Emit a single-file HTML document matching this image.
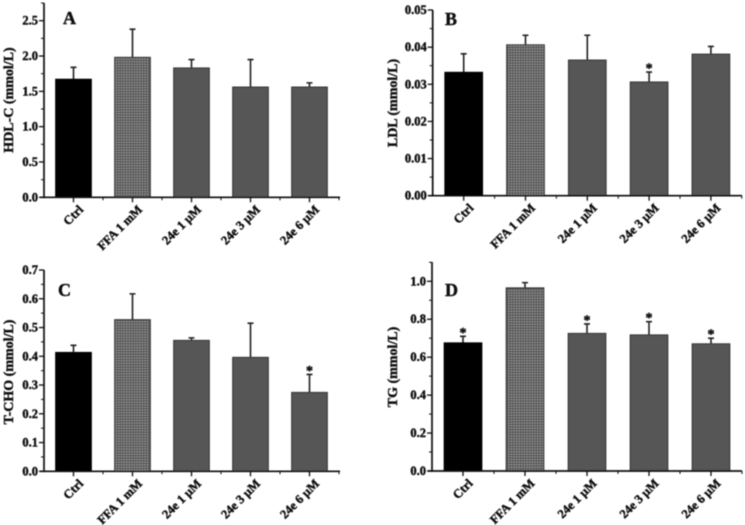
<!DOCTYPE html>
<html>
<head>
<meta charset="utf-8">
<title>Lipid panels</title>
<style>
html,body{margin:0;padding:0;background:#fff;}
#fig{display:block;width:745px;height:525px;}
text{font-family:"Liberation Serif",serif;font-weight:bold;fill:#0a0a0a;stroke:#0a0a0a;stroke-width:0.4px;}
</style>
</head>
<body>
<svg id="fig" xmlns="http://www.w3.org/2000/svg" width="745" height="525" viewBox="0 0 745 525">
<defs>
<pattern id="grid" width="2.6" height="2.6" patternUnits="userSpaceOnUse">
<rect width="2.6" height="2.6" fill="#9c9c9c"/>
<path d="M0 0.6H2.6M0.6 0V2.6" stroke="#525252" stroke-width="1.1"/>
</pattern>
<filter id="soft" x="-5%" y="-5%" width="110%" height="110%"><feGaussianBlur stdDeviation="0.4"/></filter>
</defs>
<g id="root" filter="url(#soft)"></g>
</svg>
<script>
var categories = ['Ctrl', 'FFA 1 mM', '24e 1 µM', '24e 3 µM', '24e 6 µM'];

var hdlValues = [1.67, 1.98, 1.83, 1.56, 1.56];
var hdlErrors = [0.17, 0.40, 0.12, 0.39, 0.06];
var hdlStars = [false, false, false, false, false];
var hdlTicks = ['0.0', '0.5', '1.0', '1.5', '2.0', '2.5'];

var ldlValues = [0.0332, 0.0406, 0.0365, 0.0306, 0.0381];
var ldlErrors = [0.0050, 0.0026, 0.0067, 0.0027, 0.0021];
var ldlStars = [false, false, false, true, false];
var ldlTicks = ['0.00', '0.01', '0.02', '0.03', '0.04', '0.05'];

var chotValues = [0.413, 0.527, 0.455, 0.396, 0.274];
var chotErrors = [0.025, 0.090, 0.009, 0.119, 0.063];
var chotStars = [false, false, false, false, true];
var chotTicks = ['0.0', '0.1', '0.2', '0.3', '0.4', '0.5', '0.6', '0.7'];

var tgValues = [0.675, 0.965, 0.725, 0.717, 0.670];
var tgErrors = [0.035, 0.028, 0.050, 0.070, 0.030];
var tgStars = [true, false, true, true, true];
var tgTicks = ['0.0', '0.2', '0.4', '0.6', '0.8', '1.0'];

var NS = 'http://www.w3.org/2000/svg';
var root = document.getElementById('root');

function make(tag, attrs, parent, txt) {
  var el = document.createElementNS(NS, tag);
  for (var k in attrs) el.setAttribute(k, attrs[k]);
  if (txt !== undefined) el.textContent = txt;
  parent.appendChild(el);
  return el;
}

function drawPanel(cfg) {
  var g = make('g', {}, root);
  
  

  var tickNums = cfg.ticks.map(Number);
  var step = tickNums[1] - tickNums[0];
  var yScale = function (v) {
    return cfg.y0 - (v / cfg.refValue) * (cfg.y0 - cfg.yRef);
  };
  var xScale = function (i) {
    return cfg.x0 + i * cfg.dx;
  };

  // bars and error bars
  cfg.values.forEach(function (v, i) {
    var cx = xScale(i);
    var top = yScale(v + cfg.errors[i]);
    var yv = yScale(v);
    var err = make('path', {
      d: 'M' + cx + ' ' + yv + 'V' + top + 'M' + (cx - 3) + ' ' + top + 'H' + (cx + 3),
      stroke: '#222', 'stroke-width': 1.6, fill: 'none'
    }, g);
    
    

    var fill = i === 0 ? '#000' : (i === 1 ? 'url(#grid)' : '#565656');
    var bar = make('rect', {
      x: cx - cfg.bw / 2, y: yv, width: cfg.bw, height: cfg.y0 - yv,
      fill: fill, stroke: i === 0 ? '#000' : '#3a3a3a', 'stroke-width': 1.2
    }, g);
    
    

    if (cfg.stars[i]) {
      var st = make('text', {
        x: cx, y: top + 0.5, 'text-anchor': 'middle', 'font-size': 14
      }, g, '*');
      
      
    }

    var t = make('path', {
      d: 'M' + cx + ' ' + cfg.y0 + 'v5', stroke: '#111', 'stroke-width': 1.3
    }, g);
    
    

    var m = make('path', {
      d: 'M' + (cx + cfg.dx / 2) + ' ' + cfg.y0 + 'v3', stroke: '#111', 'stroke-width': 1
    }, g);
    
    

    var lx = cx + 10.5, ly = cfg.y0 + 13;
    var lab = make('text', {
      x: lx, y: ly, 'text-anchor': 'end', 'font-size': 12.5,
      transform: 'rotate(-45 ' + lx + ' ' + ly + ')'
    }, g, categories[i]);
    
    
  });

  // axes
  var yAxis = make('path', {
    d: 'M' + cfg.ax + ' ' + cfg.yTop + 'V' + (cfg.y0 + 0.8), stroke: '#111', 'stroke-width': 1.7
  }, g);
  
  
  var xAxis = make('path', {
    d: 'M' + (cfg.ax - 4) + ' ' + cfg.y0 + 'H' + cfg.xEnd, stroke: '#111', 'stroke-width': 1.7
  }, g);
  
  

  // y ticks
  cfg.ticks.forEach(function (label, i) {
    var v = tickNums[i];
    var y = yScale(v);
    var t = make('path', {
      d: 'M' + (cfg.ax - 5) + ' ' + y + 'H' + cfg.ax, stroke: '#111', 'stroke-width': 1.3
    }, g);
    
    
    var l = make('text', {
      x: cfg.ax - 6, y: y + 4, 'text-anchor': 'end', 'font-size': 12.5
    }, g, label);
    
    

    var my = yScale(v + step / 2);
    if (my >= cfg.yTop - 0.5) {
      var m = make('path', {
        d: 'M' + (cfg.ax - 3) + ' ' + my + 'H' + cfg.ax, stroke: '#111', 'stroke-width': 1
      }, g);
      
      
    }
  });

  var title = make('text', {
    x: cfg.titleX, y: cfg.titleY, 'text-anchor': 'middle', 'font-size': 14,
    transform: 'rotate(-90 ' + cfg.titleX + ' ' + cfg.titleY + ')'
  }, g, cfg.title);
  
  

  var letter = make('text', {
    x: cfg.letterX, y: cfg.letterY, 'font-size': 18
  }, g, cfg.letter);
  
  
}

drawPanel({
  key: 'hdl', title: 'HDL-C (mmol/L)', letter: 'A',
  values: hdlValues, errors: hdlErrors, stars: hdlStars, ticks: hdlTicks,
  refValue: 2.5, ax: 44, y0: 197.3, yRef: 20.7, yTop: 3, xEnd: 340,
  x0: 73.5, dx: 59, bw: 35.5,
  titleX: 13, titleY: 100, letterX: 63, letterY: 24
});
drawPanel({
  key: 'ldl', title: 'LDL (mmol/L)', letter: 'B',
  values: ldlValues, errors: ldlErrors, stars: ldlStars, ticks: ldlTicks,
  refValue: 0.05, ax: 432.7, y0: 195.7, yRef: 10, yTop: 10, xEnd: 742,
  x0: 463.7, dx: 61.8, bw: 37.5,
  titleX: 397, titleY: 103, letterX: 445, letterY: 25
});
drawPanel({
  key: 't-cho', title: 'T-CHO (mmol/L)', letter: 'C',
  values: chotValues, errors: chotErrors, stars: chotStars, ticks: chotTicks,
  refValue: 0.7, ax: 44, y0: 471.3, yRef: 270, yTop: 270, xEnd: 340,
  x0: 73.5, dx: 59, bw: 35.5,
  titleX: 13, titleY: 372, letterX: 58, letterY: 296
});
drawPanel({
  key: 'tg', title: 'TG (mmol/L)', letter: 'D',
  values: tgValues, errors: tgErrors, stars: tgStars, ticks: tgTicks,
  refValue: 1.0, ax: 432, y0: 471, yRef: 281.3, yTop: 262, xEnd: 742,
  x0: 463, dx: 62, bw: 37.5,
  titleX: 397, titleY: 367, letterX: 445, letterY: 296
});
</script>
</body>
</html>
